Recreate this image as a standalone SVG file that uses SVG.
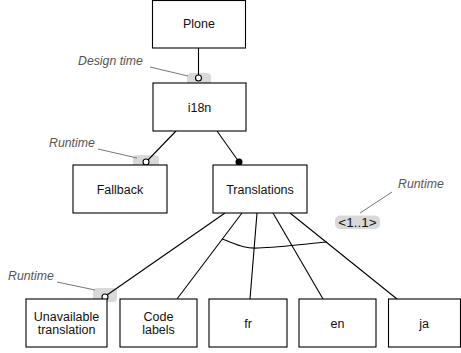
<svg xmlns="http://www.w3.org/2000/svg" width="461" height="353" viewBox="0 0 461 353">
<style>
.box{fill:#fff;stroke:#000;stroke-width:1.1}
.lbl{font-family:"Liberation Sans",Arial,sans-serif;font-size:12.5px;fill:#111;text-anchor:middle}
.note{font-family:"Liberation Sans",Arial,sans-serif;font-size:12.3px;font-style:italic;fill:#555}
.lead{stroke:#777;stroke-width:1;fill:none}
.hl{fill:#d9d9d9}
.edge{stroke:#000;stroke-width:1.1;fill:none}
.open{fill:#fff;stroke:#000;stroke-width:1.1}
</style>
<rect width="461" height="353" fill="#fff"/>
<g id="highlights">
<rect class="hl" x="187" y="73" width="24" height="14" rx="4"/>
<rect class="hl" x="133" y="155" width="26" height="14" rx="4"/>
<rect class="hl" x="93" y="288" width="24" height="14" rx="4"/>
<rect class="hl" x="335" y="215.5" width="45" height="13.5" rx="5"/>
</g>
<g id="connectors">
<line class="edge" x1="198.5" y1="48" x2="198.5" y2="75"/>
<line class="edge" x1="176" y1="131" x2="148" y2="160"/>
<line class="edge" x1="217" y1="131" x2="239" y2="162"/>
<line class="edge" x1="225" y1="213" x2="107" y2="295"/>
<line class="edge" x1="242" y1="213" x2="177" y2="299"/>
<line class="edge" x1="257" y1="213" x2="250" y2="299"/>
<line class="edge" x1="273" y1="213" x2="323" y2="299"/>
<line class="edge" x1="290" y1="213" x2="397" y2="299"/>
<path class="edge" d="M222,239 C236,244 244,249 258,248 C280,247 305,244 327,242"/>
<circle class="open" cx="198.5" cy="78" r="3"/>
<circle class="open" cx="146" cy="162" r="3"/>
<circle class="open" cx="105" cy="297" r="3"/>
<circle cx="239" cy="162" r="3.5" fill="#000"/>
</g>
<g id="notes">
<line class="lead" x1="150" y1="67" x2="188" y2="76"/>
<text class="note" x="78" y="65">Design time</text>
<line class="lead" x1="98" y1="149" x2="137" y2="158"/>
<text class="note" x="49" y="147">Runtime</text>
<line class="lead" x1="392" y1="192" x2="360" y2="213"/>
<text class="note" x="398" y="187.5">Runtime</text>
<line class="lead" x1="57" y1="282" x2="95" y2="290"/>
<text class="note" x="8" y="280">Runtime</text>
<text class="lbl" x="357.5" y="226.5" style="font-size:13.5px">&lt;1..1&gt;</text>
</g>
<g id="plone"><rect class="box" x="152.5" y="0.5" width="93" height="47.5"/><text class="lbl" x="199" y="28">Plone</text></g>
<g id="i18n"><rect class="box" x="153" y="83" width="93" height="48"/><text class="lbl" x="199.5" y="111.5">i18n</text></g>
<g id="fallback"><rect class="box" x="73" y="165" width="94" height="48"/><text class="lbl" x="120" y="193.5">Fallback</text></g>
<g id="translations"><rect class="box" x="213" y="165" width="94" height="48"/><text class="lbl" x="260" y="193.5">Translations</text></g>
<g id="unavailable"><rect class="box" x="26" y="299" width="81" height="48"/><text class="lbl" x="66.5" y="321">Unavailable</text><text class="lbl" x="66.5" y="334">translation</text></g>
<g id="codelabels"><rect class="box" x="120" y="299" width="77" height="48"/><text class="lbl" x="158.5" y="321">Code</text><text class="lbl" x="158.5" y="334">labels</text></g>
<g id="fr"><rect class="box" x="209" y="299" width="78" height="48"/><text class="lbl" x="248" y="327.5">fr</text></g>
<g id="en"><rect class="box" x="299" y="299" width="77" height="48"/><text class="lbl" x="337.5" y="327.5">en</text></g>
<g id="ja"><rect class="box" x="388.5" y="299" width="72" height="48"/><text class="lbl" x="424" y="327.5">ja</text></g>
</svg>
